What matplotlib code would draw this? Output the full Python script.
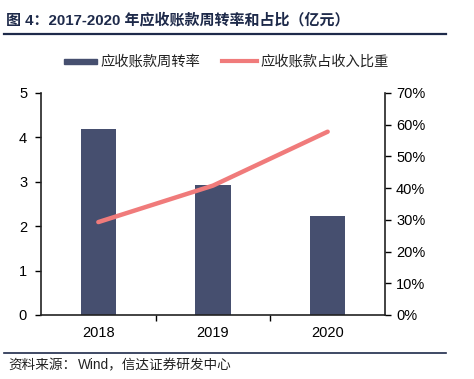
import matplotlib
matplotlib.use("Agg")
import matplotlib.pyplot as plt
from matplotlib.lines import Line2D
from matplotlib.patches import Rectangle

plt.rcParams['font.family'] = ['Liberation Sans', 'Noto Sans CJK SC', 'DejaVu Sans']

years = ['2018', '2019', '2020']
turnover = [4.2, 2.93, 2.24]
share_pct = [29.3, 40.8, 57.8]
left_ticks = [0, 1, 2, 3, 4, 5]
right_ticks = [0, 10, 20, 30, 40, 50, 60, 70]

bar_color = '#464F6F'
line_color = '#F07B7B'
W, H = 474, 379

fig = plt.figure(figsize=(W / 100, H / 100), dpi=100)
ax = fig.add_axes([41 / W, 1 - 315 / H, (385 - 41) / W, (315 - 93) / H])
x = list(range(len(years)))
ax.bar(x, turnover, width=0.31, color=bar_color, zorder=2)
ax.set_xlim(-0.5, len(years) - 0.5)
ax.set_ylim(0, 5)
ax.set_yticks(left_ticks)
ax.set_xticks(x)
ax.set_xticklabels(years)
ax.set_xticks([0.5, 1.5], minor=True)
ax.tick_params(axis='x', which='major', length=0, pad=8, labelsize=10.5)
ax.tick_params(axis='x', which='minor', length=4, width=1, direction='out')
ax.tick_params(axis='y', length=4, width=1, direction='out', labelsize=10.5, pad=6)
for s in ['top', 'right']:
    ax.spines[s].set_visible(False)
for s in ['left', 'bottom']:
    ax.spines[s].set_linewidth(1.2)
    ax.spines[s].set_color('#222222')

ax2 = ax.twinx()
ax2.plot(x, share_pct, color=line_color, lw=3.2, solid_capstyle='round', zorder=3)
ax2.set_ylim(0, 70)
ax2.set_yticks(right_ticks)
ax2.set_yticklabels([f'{v}%' for v in right_ticks])
ax2.tick_params(axis='y', length=4, width=1, direction='out', labelsize=10.5, pad=4)
for s in ['top', 'left', 'bottom']:
    ax2.spines[s].set_visible(False)
ax2.spines['right'].set_linewidth(1.2)
ax2.spines['right'].set_color('#222222')

# Title
fig.text(6 / W, 1 - 20 / H, '图 4：2017-2020 年应收账款周转率和占比（亿元）',
         fontsize=10.8, fontweight='bold', color='#1E2A4A', va='center', ha='left',
         family=['Liberation Sans', 'Noto Sans CJK SC'])
fig.add_artist(Line2D([4 / W, 446 / W], [1 - 34 / H, 1 - 34 / H], color='#1E2A4A', lw=1.6))

# Legend
fig.add_artist(Rectangle((64 / W, 1 - 63.5 / H), 33 / W, 5 / H, color=bar_color))
fig.text(100 / W, 1 - 61 / H, '应收账款周转率', fontsize=10.3, va='center', ha='left',
         family=['Noto Sans CJK SC'], color='#222222')
fig.add_artist(Line2D([222 / W, 257 / W], [1 - 61 / H, 1 - 61 / H], color=line_color, lw=3))
fig.text(260 / W, 1 - 61 / H, '应收账款占收入比重', fontsize=10.3, va='center', ha='left',
         family=['Noto Sans CJK SC'], color='#222222')

# Footer
fig.add_artist(Line2D([4 / W, 446 / W], [1 - 353 / H, 1 - 353 / H], color='#1E2A4A', lw=1.2))
fig.text(8 / W, 1 - 365 / H, '资料来源：', fontsize=9.8, va='center', ha='left',
         family=['Noto Sans CJK SC'], color='#222222', style='italic')
fig.text(78 / W, 1 - 365 / H, 'Wind，信达证券研发中心', fontsize=9.8, va='center', ha='left',
         family=['Liberation Sans', 'Noto Sans CJK SC'], color='#222222')

fig.savefig('out.png', dpi=100)
